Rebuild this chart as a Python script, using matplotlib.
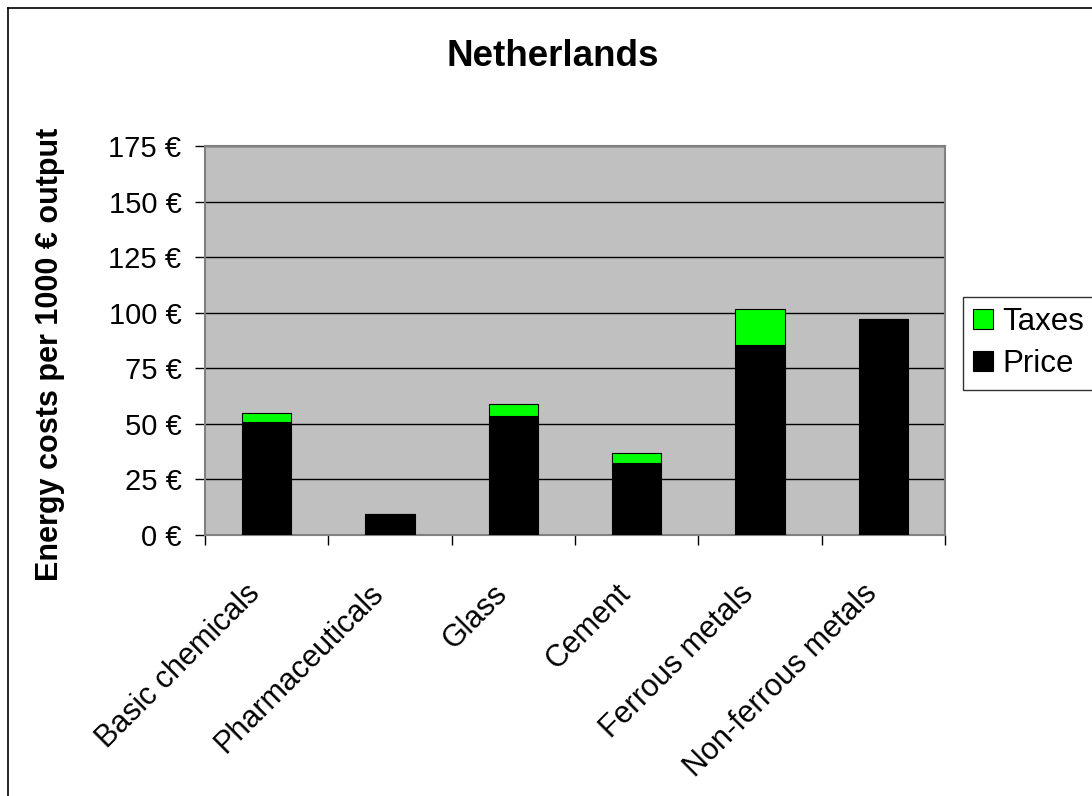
import numpy as np
import matplotlib
matplotlib.use("Agg")
import matplotlib.pyplot as plt
import matplotlib.transforms as mtransforms
from matplotlib.lines import Line2D
from matplotlib.ticker import FixedLocator

plt.rcParams['font.family'] = ['Liberation Sans', 'DejaVu Sans']

# data
categories = ['Basic chemicals', 'Pharmaceuticals', 'Glass', 'Cement',
              'Ferrous metals', 'Non-ferrous metals']
price = [50.9, 9.3, 53.6, 32.3, 85.3, 97.2]
taxes = [4.0, 0.0, 5.4, 4.5, 16.5, 0.0]
yticks = [0, 25, 50, 75, 100, 125, 150, 175]
ytick_labels = [f'{v} €' for v in yticks]


def main():
    W, H = 1092, 796
    fig = plt.figure(figsize=(W / 100, H / 100), dpi=100)
    ax = fig.add_axes([205 / W, 1 - 535 / H, 740 / W, 389 / H])
    ax.set_facecolor('#C0C0C0')

    x = np.arange(len(categories))
    ax.bar(x, price, width=0.4, color='black', edgecolor='black', lw=0.8,
           label='Price', zorder=3)
    ax.bar(x, taxes, width=0.4, bottom=price, color='#00FF00',
           edgecolor='black', lw=0.8, label='Taxes', zorder=3)

    ax.set_xlim(-0.5, len(categories) - 0.5)
    ax.set_ylim(0, 175)
    ax.set_yticks(yticks)
    ax.set_yticklabels(ytick_labels, fontsize=21)
    ax.yaxis.grid(True, color='black', lw=1)
    ax.set_axisbelow(True)

    ax.xaxis.set_minor_locator(FixedLocator(np.arange(len(categories) + 1) - 0.5))
    ax.tick_params(axis='x', which='major', length=0, pad=39)
    ax.tick_params(axis='x', which='minor', length=7, width=1, direction='out')
    ax.tick_params(axis='y', length=7, width=1, direction='out', pad=10)
    ax.set_xticks(x)
    ax.set_xticklabels(categories, fontsize=22, rotation=45, ha='right',
                       va='center', rotation_mode='anchor')
    # nudge the slanted labels a bit to the left, like the original
    shift = mtransforms.ScaledTranslation(-11 / 100, 0, fig.dpi_scale_trans)
    for lbl in ax.get_xticklabels():
        lbl.set_transform(lbl.get_transform() + shift)

    for s in ax.spines.values():
        s.set_color('#808080')
        s.set_linewidth(1.5)

    fig.text(553 / W, 1 - 56 / H, 'Netherlands', fontsize=26.5,
             fontweight='bold', ha='center', va='center')
    fig.text(50 / W, 1 - 354 / H, 'Energy costs per 1000 € output',
             fontsize=22, fontweight='bold', rotation=90,
             ha='center', va='center')

    handles, labels = ax.get_legend_handles_labels()
    leg = fig.legend(handles[::-1], labels[::-1], loc='upper left',
                     bbox_to_anchor=(963 / W, 1 - 297 / H), fontsize=22.5,
                     frameon=True, fancybox=False, handlelength=0.62,
                     handleheight=0.62, handletextpad=0.3, borderpad=0.33,
                     labelspacing=0.38, borderaxespad=0)
    leg.get_frame().set_edgecolor('black')
    leg.get_frame().set_linewidth(1)

    # outer chart frame
    fig.add_artist(Line2D([8 / W, 8 / W], [0, 1 - 8 / H], color='black', lw=1.2))
    fig.add_artist(Line2D([8 / W, 1], [1 - 8 / H, 1 - 8 / H], color='black', lw=1.2))

    fig.savefig('out.png', dpi=100)


if __name__ == "__main__":
    main()
